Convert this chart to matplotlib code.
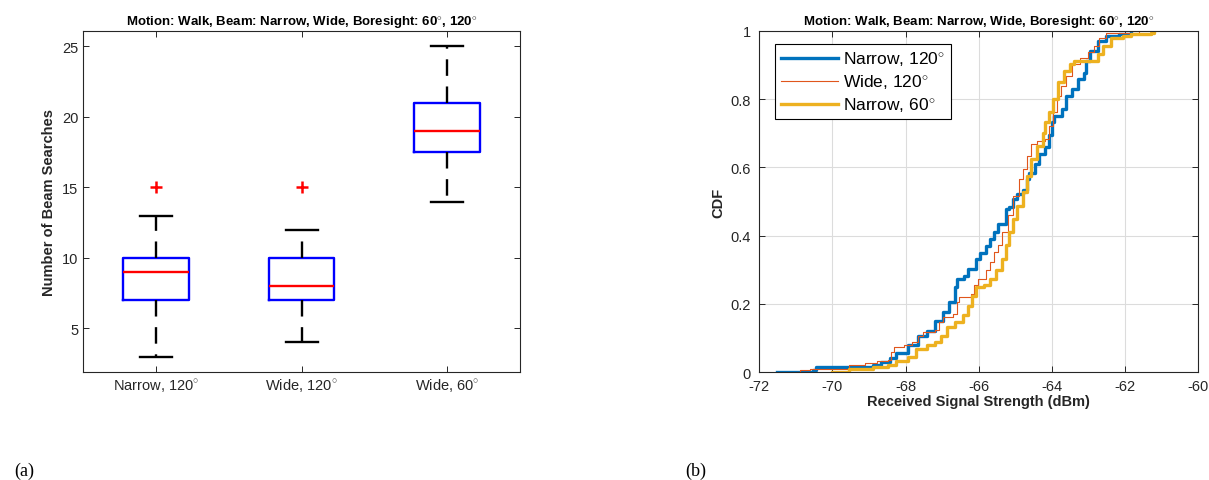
import matplotlib
matplotlib.use("Agg")
import matplotlib.pyplot as plt

plt.rcParams["font.family"] = ["Liberation Sans", "DejaVu Sans"]
plt.rcParams["mathtext.fontset"] = "custom"
plt.rcParams["mathtext.rm"] = "Liberation Sans"
plt.rcParams["axes.unicode_minus"] = False

# ---- box plot data (a) ----
box_labels = ["Narrow, 120$^{\\circ}$", "Wide, 120$^{\\circ}$", "Wide, 60$^{\\circ}$"]
box_q1 = [7, 7, 17.5]
box_med = [9, 8, 19]
box_q3 = [10, 10, 21]
whisk_lo = [3, 4, 14]
whisk_hi = [13, 12, 25]
outliers = [[15], [15], []]

# ---- CDF data (b) ----
narrow120_x = [-71.51, -70.52, -70.45, -68.9, -68.68, -68.42, -68.26, -67.94, -67.67, -67.40,
               -67.19, -66.97, -66.81, -66.65, -66.60, -66.39, -66.28, -66.06, -65.96, -65.80,
               -65.69, -65.58, -65.48, -65.26, -65.16, -65.05, -64.94, -64.78, -64.67, -64.62,
               -64.46, -64.35, -64.19, -64.09, -64.0, -63.93, -63.71, -63.60, -63.44, -63.28,
               -63.12, -63.07, -62.96, -62.75, -62.53, -62.16, -61.84]
narrow120_y = [0.0, 0.007, 0.016, 0.02, 0.03, 0.04, 0.055, 0.08, 0.105, 0.12,
               0.15, 0.175, 0.205, 0.25, 0.273, 0.283, 0.302, 0.33, 0.35, 0.37,
               0.39, 0.41, 0.434, 0.478, 0.483, 0.507, 0.522, 0.535, 0.566, 0.585,
               0.61, 0.64, 0.66, 0.695, 0.732, 0.751, 0.771, 0.81, 0.829, 0.859,
               0.878, 0.912, 0.941, 0.971, 0.985, 0.992, 1.0]

wide120_x = [-70.96, -70.88, -70.6, -69.54, -69.11, -68.79, -68.47, -68.39, -68.31, -68.04,
             -67.83, -67.67, -67.51, -67.19, -67.08, -66.97, -66.71, -66.60, -66.55, -66.22,
             -66.12, -66.01, -65.80, -65.69, -65.58, -65.48, -65.37, -65.21, -65.05, -64.89,
             -64.78, -64.67, -64.57, -64.41, -64.19, -64.09, -63.98, -63.87, -63.76, -63.60,
             -63.44, -63.23, -63.02, -62.86, -62.70, -62.53, -61.63]
wide120_y = [0.0, 0.007, 0.01, 0.02, 0.026, 0.031, 0.036, 0.058, 0.073, 0.078,
             0.088, 0.107, 0.117, 0.122, 0.146, 0.161, 0.171, 0.205, 0.22, 0.229,
             0.254, 0.273, 0.298, 0.322, 0.351, 0.371, 0.41, 0.459, 0.517, 0.566,
             0.595, 0.634, 0.668, 0.678, 0.683, 0.722, 0.761, 0.81, 0.839, 0.868,
             0.902, 0.922, 0.937, 0.956, 0.978, 0.995, 1.0]

narrow60_x = [-70.0, -69.54, -68.9, -68.47, -68.26, -67.94, -67.72, -67.40, -67.19, -67.03,
              -66.87, -66.65, -66.44, -66.28, -66.17, -66.06, -65.85, -65.69, -65.53, -65.37,
              -65.26, -65.16, -65.05, -64.94, -64.78, -64.67, -64.57, -64.41, -64.25, -64.19,
              -64.09, -63.98, -63.82, -63.66, -63.50, -63.39, -62.91, -62.75, -62.59, -62.37,
              -62.05, -61.84, -61.30, -61.20]
narrow60_y = [0.0, 0.01, 0.015, 0.02, 0.031, 0.044, 0.068, 0.078, 0.088, 0.107,
              0.132, 0.146, 0.166, 0.195, 0.224, 0.249, 0.254, 0.273, 0.298, 0.332,
              0.371, 0.41, 0.449, 0.488, 0.527, 0.576, 0.624, 0.663, 0.702, 0.732,
              0.761, 0.8, 0.849, 0.883, 0.902, 0.912, 0.912, 0.932, 0.956, 0.98,
              0.985, 0.99, 0.995, 1.0]

cdf_labels = ["Narrow, 120$^{\\circ}$", "Wide, 120$^{\\circ}$", "Narrow, 60$^{\\circ}$"]

title = "Motion: Walk, Beam: Narrow, Wide, Boresight: 60$^{\\circ}$, 120$^{\\circ}$"
tick_col = "#262626"

fig = plt.figure(figsize=(12.09, 4.81), dpi=100)
ax1 = fig.add_axes([0.0687, 0.2245, 0.3615, 0.709])
ax2 = fig.add_axes([0.628, 0.2245, 0.363, 0.709])

# ---- (a) box plot ----
stats = []
for i in range(3):
    stats.append({"med": box_med[i], "q1": box_q1[i], "q3": box_q3[i],
                  "whislo": whisk_lo[i], "whishi": whisk_hi[i], "fliers": outliers[i]})
ax1.bxp(stats, positions=[1, 2, 3], widths=0.45, showfliers=True,
        boxprops=dict(color="#0000ff", linewidth=1.7),
        medianprops=dict(color="#ff0000", linewidth=1.7),
        whiskerprops=dict(color="black", linewidth=1.7, linestyle=(0, (7, 4.5))),
        capprops=dict(color="black", linewidth=1.7),
        capwidths=0.22,
        flierprops=dict(marker="+", markeredgecolor="#ff0000", markersize=9, markeredgewidth=1.8))
ax1.set_xlim(0.5, 3.5)
ax1.set_ylim(1.9, 26.1)
ax1.set_yticks([5, 10, 15, 20, 25])
ax1.set_xticks([1, 2, 3])
ax1.set_xticklabels(box_labels)
ax1.set_ylabel("Number of Beam Searches", fontsize=10.5, fontweight="bold", color=tick_col)
ax1.set_title(title, fontsize=9.5, fontweight="bold", pad=4)

# ---- (b) CDF ----
ax2.step(narrow120_x, narrow120_y, where="post", color="#0072BD", linewidth=2.4, label=cdf_labels[0])
ax2.step(wide120_x, wide120_y, where="post", color="#E0561C", linewidth=0.8, label=cdf_labels[1])
ax2.step(narrow60_x, narrow60_y, where="post", color="#EDB120", linewidth=2.4, label=cdf_labels[2])
ax2.set_xlim(-72, -60)
ax2.set_ylim(0, 1)
ax2.set_xticks([-72, -70, -68, -66, -64, -62, -60])
ax2.set_yticks([0, 0.2, 0.4, 0.6, 0.8, 1])
ax2.set_yticklabels(["0", "0.2", "0.4", "0.6", "0.8", "1"])
ax2.grid(True, color="#dcdcdc", linewidth=0.8)
ax2.set_axisbelow(True)
ax2.set_xlabel("Received Signal Strength (dBm)", fontsize=10.5, fontweight="bold", color=tick_col, labelpad=1)
ax2.set_ylabel("CDF", fontsize=10.5, fontweight="bold", color=tick_col)
ax2.set_title(title, fontsize=9.5, fontweight="bold", pad=4)
leg = ax2.legend(loc="upper left", bbox_to_anchor=(0.037, 0.962), fontsize=12.5, fancybox=False,
                 framealpha=1, edgecolor="black", handlelength=3.3, borderpad=0.3, labelspacing=0.25,
                 handletextpad=0.3, borderaxespad=0)
leg.get_frame().set_linewidth(0.8)

for ax in (ax1, ax2):
    ax.tick_params(direction="in", top=True, right=True, labelsize=10.5, colors=tick_col,
                   length=4, width=0.7)
    for sp in ax.spines.values():
        sp.set_color(tick_col)
        sp.set_linewidth(0.8)
ax2.tick_params(axis="y", pad=6)
ax2.tick_params(axis="x", pad=5)

fig.text(0.012, 0.01, "(a)", fontsize=13, family="Liberation Serif")
fig.text(0.567, 0.01, "(b)", fontsize=13, family="Liberation Serif")

fig.savefig("out.png", dpi=100)
